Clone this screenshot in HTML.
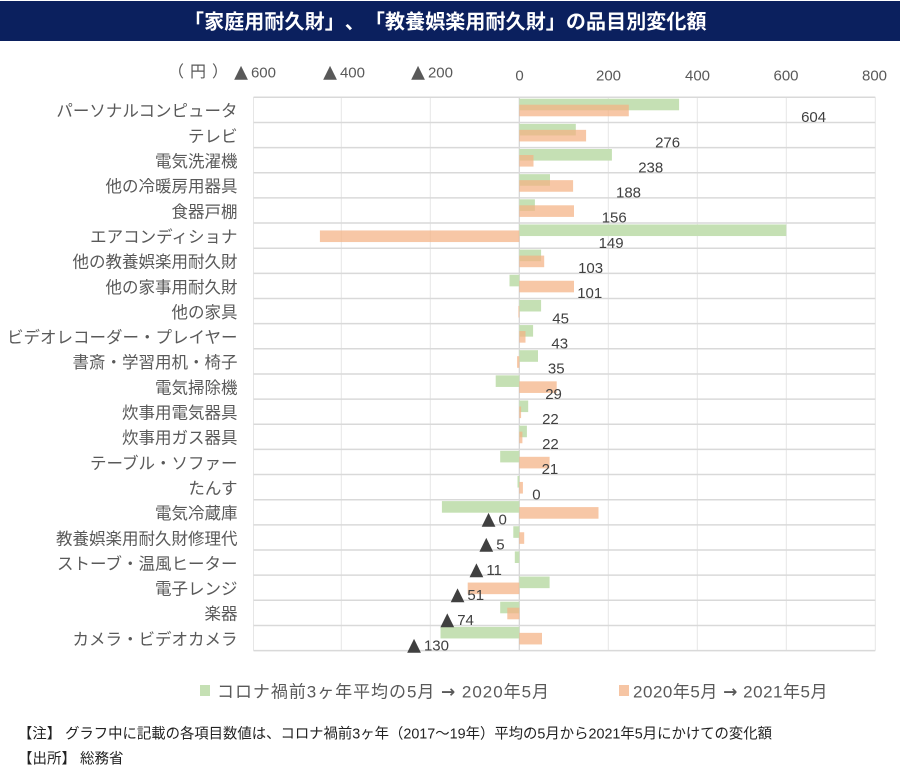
<!DOCTYPE html>
<html lang="ja">
<head>
<meta charset="utf-8">
<style>
  html,body{margin:0;padding:0;background:#fff;}
  svg{display:block;}
  .jp{font-family:"Liberation Sans","Noto Sans CJK JP",sans-serif;}
  .num{font-family:"Liberation Sans","Noto Sans CJK JP",sans-serif;font-size:15px;}
  .tri{font-family:"DejaVu Sans","Liberation Sans",sans-serif;font-size:18px;}
  .arr{font-family:"DejaVu Sans","Liberation Sans",sans-serif;font-weight:bold;}
</style>
</head>
<body>
<svg width="900" height="779" viewBox="0 0 900 779" xmlns="http://www.w3.org/2000/svg">
  <rect x="0" y="0" width="900" height="779" fill="#ffffff"/>
  <!-- Title bar -->
  <rect x="0" y="1" width="900" height="40" fill="#0b205e"/>
  <text y="28.5" class="jp" font-size="20" font-weight="bold" fill="#ffffff" x="184 204.1 224.2 244.3 264.4 284.5 304.6 324.7 344.8 364.9 385 405.1 425.2 445.3 465.4 485.5 505.6 525.7 545.8 565.9 586 606.1 626.2 646.3 666.4 686.5">「家庭用耐久財」、「教養娯楽用耐久財」の品目別変化額</text>

  <!-- Axis header -->
  <g class="jp" font-size="16" fill="#595959">
    <text x="168" y="77">（</text>
    <text x="190" y="77">円</text>
    <text x="212" y="77">）</text>
  </g>
  <g fill="#595959">
    <text x="276" y="77.3" text-anchor="end" class="num"><tspan class="tri" font-size="20">▲</tspan><tspan dx="3">600</tspan></text>
    <text x="365" y="77.3" text-anchor="end" class="num"><tspan class="tri" font-size="20">▲</tspan><tspan dx="3">400</tspan></text>
    <text x="453" y="77.3" text-anchor="end" class="num"><tspan class="tri" font-size="20">▲</tspan><tspan dx="3">200</tspan></text>
    <text x="519.5" y="80.5" text-anchor="middle" class="num">0</text>
    <text x="608.5" y="80.5" text-anchor="middle" class="num">200</text>
    <text x="697.5" y="80.5" text-anchor="middle" class="num">400</text>
    <text x="786" y="80.5" text-anchor="middle" class="num">600</text>
    <text x="874.5" y="80.5" text-anchor="middle" class="num">800</text>
  </g>

  <!-- vertical gridlines -->
  <g stroke="#e6e6e6" stroke-width="1">
    <line x1="253.5" y1="97.3" x2="253.5" y2="650.6"/>
    <line x1="341.3" y1="97.3" x2="341.3" y2="650.6"/>
    <line x1="430.3" y1="97.3" x2="430.3" y2="650.6"/>
    <line x1="608.3" y1="97.3" x2="608.3" y2="650.6"/>
    <line x1="697.3" y1="97.3" x2="697.3" y2="650.6"/>
    <line x1="786.3" y1="97.3" x2="786.3" y2="650.6"/>
    <line x1="875.3" y1="97.3" x2="875.3" y2="650.6"/>
  </g>
  <line x1="519.3" y1="97.3" x2="519.3" y2="650.6" stroke="#d4d4d4" stroke-width="1.2"/>

  <!-- horizontal row separators -->
  <g stroke="#d9d9d9" stroke-width="1.5">
    <line x1="253.5" y1="97.3" x2="875.3" y2="97.3"/>
    <line x1="253.5" y1="122.45" x2="875.3" y2="122.45"/>
    <line x1="253.5" y1="147.6" x2="875.3" y2="147.6"/>
    <line x1="253.5" y1="172.75" x2="875.3" y2="172.75"/>
    <line x1="253.5" y1="197.9" x2="875.3" y2="197.9"/>
    <line x1="253.5" y1="223.05" x2="875.3" y2="223.05"/>
    <line x1="253.5" y1="248.2" x2="875.3" y2="248.2"/>
    <line x1="253.5" y1="273.35" x2="875.3" y2="273.35"/>
    <line x1="253.5" y1="298.5" x2="875.3" y2="298.5"/>
    <line x1="253.5" y1="323.65" x2="875.3" y2="323.65"/>
    <line x1="253.5" y1="348.8" x2="875.3" y2="348.8"/>
    <line x1="253.5" y1="373.95" x2="875.3" y2="373.95"/>
    <line x1="253.5" y1="399.1" x2="875.3" y2="399.1"/>
    <line x1="253.5" y1="424.25" x2="875.3" y2="424.25"/>
    <line x1="253.5" y1="449.4" x2="875.3" y2="449.4"/>
    <line x1="253.5" y1="474.55" x2="875.3" y2="474.55"/>
    <line x1="253.5" y1="499.7" x2="875.3" y2="499.7"/>
    <line x1="253.5" y1="524.85" x2="875.3" y2="524.85"/>
    <line x1="253.5" y1="550" x2="875.3" y2="550"/>
    <line x1="253.5" y1="575.15" x2="875.3" y2="575.15"/>
    <line x1="253.5" y1="600.3" x2="875.3" y2="600.3"/>
    <line x1="253.5" y1="625.45" x2="875.3" y2="625.45"/>
    <line x1="253.5" y1="650.6" x2="875.3" y2="650.6"/>
  </g>

  <!-- Green bars -->
  <g fill="#c5e0b4">
    <rect x="519.3" y="98.7" width="159.8" height="11.6"/>
    <rect x="519.3" y="123.85" width="56.5" height="11.6"/>
    <rect x="519.3" y="149" width="92.6" height="11.6"/>
    <rect x="519.3" y="174.15" width="30.7" height="11.6"/>
    <rect x="519.3" y="199.3" width="15.6" height="11.6"/>
    <rect x="519.3" y="224.45" width="267" height="11.6"/>
    <rect x="519.3" y="249.6" width="21.8" height="11.6"/>
    <rect x="509.5" y="274.75" width="9.8" height="11.6"/>
    <rect x="519.3" y="299.9" width="21.8" height="11.6"/>
    <rect x="519.3" y="325.05" width="13.8" height="11.6"/>
    <rect x="519.3" y="350.2" width="18.7" height="11.6"/>
    <rect x="495.7" y="375.35" width="23.6" height="11.6"/>
    <rect x="519.3" y="400.5" width="8.9" height="11.6"/>
    <rect x="519.3" y="425.65" width="7.6" height="11.6"/>
    <rect x="500.2" y="450.8" width="19.1" height="11.6"/>
    <rect x="517.5" y="475.95" width="1.8" height="11.6"/>
    <rect x="441.9" y="501.1" width="77.4" height="11.6"/>
    <rect x="513.3" y="526.25" width="6" height="11.6"/>
    <rect x="514.8" y="551.4" width="4.5" height="11.6"/>
    <rect x="519.3" y="576.55" width="30.3" height="11.6"/>
    <rect x="500.2" y="601.7" width="19.1" height="11.6"/>
    <rect x="440.5" y="626.85" width="78.8" height="11.6"/>
  </g>

  <!-- Orange bars -->
  <g fill="#f4b183" fill-opacity="0.72">
    <rect x="519.3" y="104.7" width="109.5" height="11.6"/>
    <rect x="519.3" y="129.85" width="66.8" height="11.6"/>
    <rect x="519.3" y="155" width="14.2" height="11.6"/>
    <rect x="519.3" y="180.15" width="53.8" height="11.6"/>
    <rect x="519.3" y="205.3" width="54.7" height="11.6"/>
    <rect x="319.9" y="230.45" width="199.4" height="11.6"/>
    <rect x="519.3" y="255.6" width="24.9" height="11.6"/>
    <rect x="519.3" y="280.75" width="54.7" height="11.6"/>
    <rect x="518.4" y="305.9" width="0.9" height="11.6"/>
    <rect x="519.3" y="331.05" width="6.2" height="11.6"/>
    <rect x="517.1" y="356.2" width="2.2" height="11.6"/>
    <rect x="519.3" y="381.35" width="37.4" height="11.6"/>
    <rect x="519.3" y="406.5" width="1.8" height="11.6"/>
    <rect x="519.3" y="431.65" width="3.1" height="11.6"/>
    <rect x="519.3" y="456.8" width="30.3" height="11.6"/>
    <rect x="519.3" y="481.95" width="3.6" height="11.6"/>
    <rect x="519.3" y="507.1" width="79.2" height="11.6"/>
    <rect x="519.3" y="532.25" width="4.9" height="11.6"/>
    <rect x="467.7" y="582.55" width="51.6" height="11.6"/>
    <rect x="507.3" y="607.7" width="12" height="11.6"/>
    <rect x="519.3" y="632.85" width="22.7" height="11.6"/>
  </g>

  <!-- Category labels -->
  <g class="jp" font-size="16.5" fill="#595959" text-anchor="end">
    <text x="237.5" y="116.7">パーソナルコンピュータ</text>
    <text x="237.5" y="141.85">テレビ</text>
    <text x="237.5" y="167">電気洗濯機</text>
    <text x="237.5" y="192.15">他の冷暖房用器具</text>
    <text x="237.5" y="217.3">食器戸棚</text>
    <text x="237.5" y="242.45">エアコンディショナ</text>
    <text x="237.5" y="267.6">他の教養娯楽用耐久財</text>
    <text x="237.5" y="292.75">他の家事用耐久財</text>
    <text x="237.5" y="317.9">他の家具</text>
    <text x="237.5" y="343.05">ビデオレコーダー・プレイヤー</text>
    <text x="237.5" y="368.2">書斎・学習用机・椅子</text>
    <text x="237.5" y="393.35">電気掃除機</text>
    <text x="237.5" y="418.5">炊事用電気器具</text>
    <text x="237.5" y="443.65">炊事用ガス器具</text>
    <text x="237.5" y="468.8">テーブル・ソファー</text>
    <text x="237.5" y="493.95">たんす</text>
    <text x="237.5" y="519.1">電気冷蔵庫</text>
    <text x="237.5" y="544.25">教養娯楽用耐久財修理代</text>
    <text x="237.5" y="569.4">ストーブ・温風ヒーター</text>
    <text x="237.5" y="594.55">電子レンジ</text>
    <text x="237.5" y="619.7">楽器</text>
    <text x="237.5" y="644.85">カメラ・ビデオカメラ</text>
  </g>

  <!-- Data labels -->
  <g fill="#404040">
    <text x="801.1" y="122.1" class="num">604</text>
    <text x="655.1" y="147.25" class="num">276</text>
    <text x="638.2" y="172.4" class="num">238</text>
    <text x="616" y="197.55" class="num">188</text>
    <text x="601.7" y="222.7" class="num">156</text>
    <text x="598.6" y="247.85" class="num">149</text>
    <text x="578.1" y="273" class="num">103</text>
    <text x="577.2" y="298.15" class="num">101</text>
    <text x="552.3" y="323.3" class="num">45</text>
    <text x="551.4" y="348.45" class="num">43</text>
    <text x="547.9" y="373.6" class="num">35</text>
    <text x="545.2" y="398.75" class="num">29</text>
    <text x="542.1" y="423.9" class="num">22</text>
    <text x="542.1" y="449.05" class="num">22</text>
    <text x="541.6" y="474.2" class="num">21</text>
    <text x="532.3" y="499.35" class="num">0</text>
    <text x="506.8" y="524.5" text-anchor="end" class="num"><tspan class="tri">▲</tspan><tspan dx="3">0</tspan></text>
    <text x="504.6" y="549.65" text-anchor="end" class="num"><tspan class="tri">▲</tspan><tspan dx="3">5</tspan></text>
    <text x="501.9" y="574.8" text-anchor="end" class="num"><tspan class="tri">▲</tspan><tspan dx="3">11</tspan></text>
    <text x="484.1" y="599.95" text-anchor="end" class="num"><tspan class="tri">▲</tspan><tspan dx="3">51</tspan></text>
    <text x="473.9" y="625.1" text-anchor="end" class="num"><tspan class="tri">▲</tspan><tspan dx="3">74</tspan></text>
    <text x="449" y="650.25" text-anchor="end" class="num"><tspan class="tri">▲</tspan><tspan dx="3">130</tspan></text>
  </g>

  <!-- Legend -->
  <rect x="200" y="685" width="10" height="11" fill="#c5e0b4"/>
  <text x="217" y="697.5" class="jp" font-size="17" fill="#595959" textLength="332" lengthAdjust="spacing">コロナ禍前3ヶ年平均の5月 <tspan class="arr" font-size="17">→</tspan> 2020年5月</text>
  <rect x="619" y="685" width="10" height="11" fill="#f6c5a4"/>
  <text x="633" y="697.5" class="jp" font-size="17" fill="#595959" textLength="194.5" lengthAdjust="spacing">2020年5月 <tspan class="arr" font-size="17">→</tspan> 2021年5月</text>

  <!-- Notes -->
  <text x="18" y="738.5" class="jp" font-size="14.5" fill="#222222" textLength="754" lengthAdjust="spacingAndGlyphs">【注】 グラフ中に記載の各項目数値は、コロナ禍前3ヶ年（2017〜19年）平均の5月から2021年5月にかけての変化額</text>
  <text x="18" y="763.5" class="jp" font-size="14.5" fill="#222222">【出所】 総務省</text>
</svg>
</body>
</html>
